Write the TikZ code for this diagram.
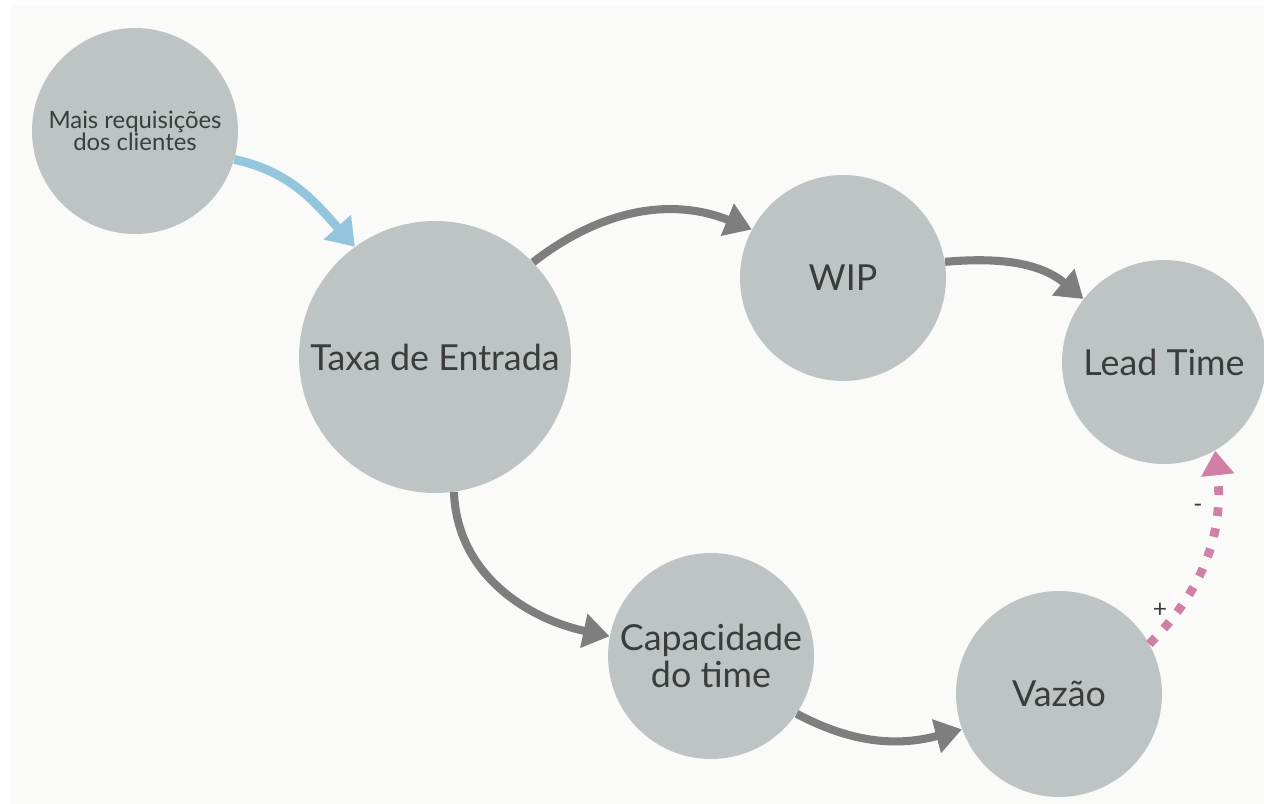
\documentclass[tikz,border=0pt]{standalone}
\usepackage{fontspec}
\setmainfont{Lato}
\usetikzlibrary{arrows.meta}

\definecolor{paper}{HTML}{FAFAF8}
\definecolor{bubblegray}{HTML}{BDC4C3}
\definecolor{linkgray}{HTML}{7E7E7E}
\definecolor{linkblue}{HTML}{93C6DC}
\definecolor{linkpink}{HTML}{D07FA7}
\definecolor{inkgray}{HTML}{3C3C3C}

\begin{document}
\begin{tikzpicture}[x=0.02cm,y=-0.02cm,
	bubble/.style={circle,fill=bubblegray,inner sep=0pt,text=inkgray,align=center,
		font=\fontsize{20.4}{21.5}\selectfont},
	link/.style={line width=4.6pt,draw=linkgray,-{Triangle[length=15pt,width=19pt]}},
	linkin/.style={line width=5pt,draw=linkblue,-{Triangle[length=15pt,width=20pt]}},
	linkneg/.style={line width=5pt,draw=linkpink,dash pattern=on 5pt off 7pt,
		-{Triangle[length=14pt,width=18pt]}},
	sign/.style={text=inkgray,font=\fontsize{14}{14}\selectfont}]
	% Page and canvas
	\useasboundingbox (0,0) rectangle (1264,804);
	\fill[white] (0,0) rectangle (1264,804);
	\fill[paper] (11,5) rectangle (1264,804);
	
	% Variables of the loop
	\node[bubble,minimum size=4.12cm,font=\fontsize{13.6}{12.5}\selectfont] (clientes) at (135,131) {Mais requisições\\dos clientes};
	\node[bubble,minimum size=5.44cm] (entrada) at (435,357) {Taxa de Entrada};
	\node[bubble,minimum size=4.12cm] (wip) at (843,278) {WIP};
	\node[bubble,minimum size=4.08cm] (leadtime) at (1164,362) {Lead Time};
	\node[bubble,minimum size=4.12cm] (capacidade) at (711,656) {Capacidade\\do time};
	\node[bubble,minimum size=4.12cm] (vazao) at (1059,694) {Vazão};
	
	% Influences
	\draw[linkin] (clientes.-16) to[out=-12,in=132] (entrada.126);
	\draw[link] (entrada.44) to[out=38,in=158] (wip.152);
	\draw[link] (wip.9) to[out=5,in=140] (leadtime.142);
	\draw[link] (entrada.-82) to[out=-88,in=168] (capacidade.169);
	\draw[link] (capacidade.-34) to[out=-28,in=195] (vazao.200);
	\draw[linkneg] (vazao.29) to[out=45,in=-84] (leadtime.-60);
	
	% Polarity
	\node[sign] (mais) at (1160,610) {+};
	\node[sign] (menos) at (1198,508) {-};
\end{tikzpicture}
\end{document}
